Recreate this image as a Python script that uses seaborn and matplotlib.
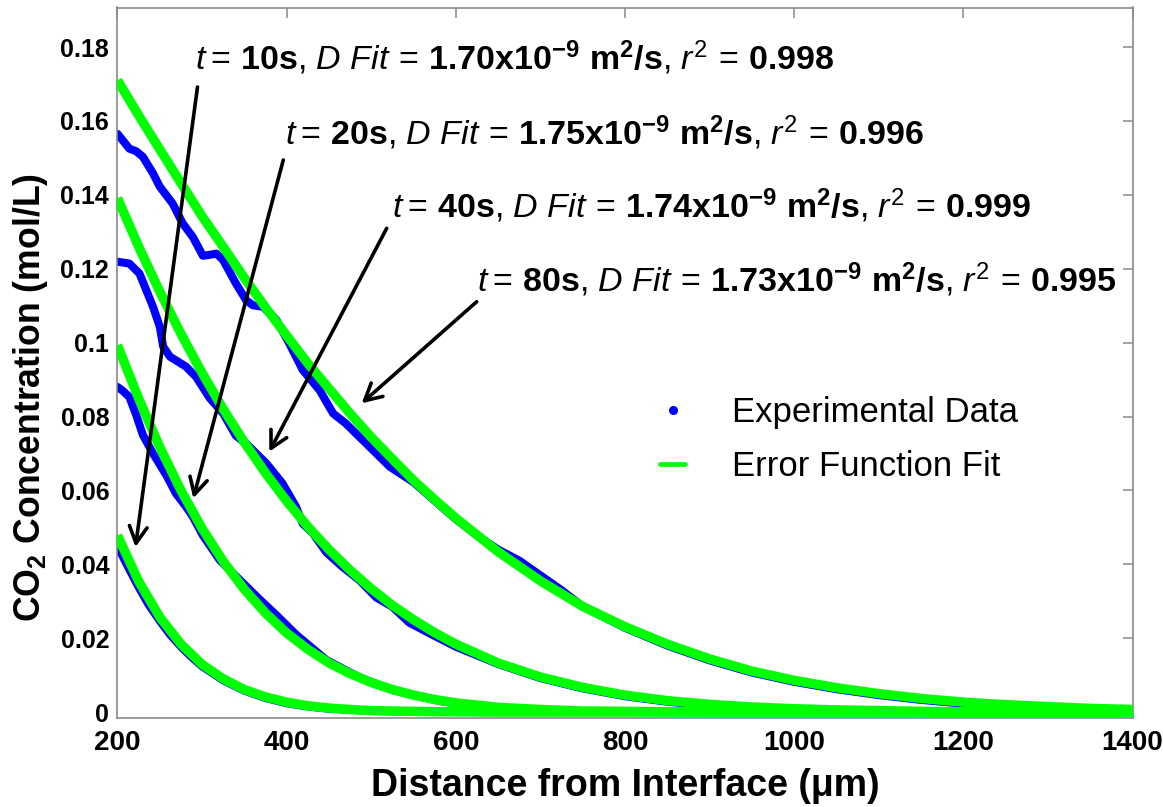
import matplotlib
matplotlib.use("Agg")
import matplotlib.pyplot as plt
import seaborn as sns
import pandas as pd
from matplotlib.lines import Line2D

# ---------------- data ----------------
x_fit = [200, 225, 250, 275, 300, 325, 350, 375, 400, 425, 450, 475, 500, 525, 550,
         575, 600, 650, 700, 750, 800, 850, 900, 950, 1000, 1050, 1100, 1150, 1200,
         1250, 1300, 1350, 1400]
fit_80s = [0.1710, 0.1615, 0.1523, 0.1432, 0.1342, 0.1259, 0.1175, 0.1095, 0.1019,
           0.0944, 0.0876, 0.0808, 0.0744, 0.0685, 0.0627, 0.0575, 0.0525, 0.0434,
           0.0355, 0.0286, 0.0231, 0.0184, 0.0144, 0.0111, 0.0086, 0.0066, 0.0050,
           0.0037, 0.0027, 0.0020, 0.0015, 0.0010, 0.0007]
fit_40s = [0.1391, 0.1260, 0.1138, 0.1024, 0.0918, 0.0820, 0.0730, 0.0647, 0.0571,
           0.0502, 0.0440, 0.0384, 0.0334, 0.0289, 0.0250, 0.0215, 0.0184, 0.0133,
           0.0095, 0.0067, 0.0046, 0.0031, 0.0021, 0.0014, 0.0009, 0.0006, 0.0004,
           0.0002, 0.0001, 0.0001, 0.0000, 0.0000, 0.0000]
fit_20s = [0.0993, 0.0849, 0.0717, 0.0600, 0.0497, 0.0408, 0.0332, 0.0268, 0.0214,
           0.0170, 0.0133, 0.0104, 0.0080, 0.0061, 0.0046, 0.0034, 0.0025, 0.0013,
           0.0007, 0.0003, 0.0002, 0.0001, 0.0000, 0.0000, 0.0000, 0.0000, 0.0000,
           0.0000, 0.0000, 0.0000, 0.0000, 0.0000, 0.0000]
fit_10s = [0.0478, 0.0354, 0.0257, 0.0184, 0.0129, 0.0090, 0.0061, 0.0041, 0.0027,
           0.0017, 0.0011, 0.0007, 0.0004, 0.0003, 0.0002, 0.0001, 0.0001, 0.0000,
           0.0000, 0.0000, 0.0000, 0.0000, 0.0000, 0.0000, 0.0000, 0.0000, 0.0000,
           0.0000, 0.0000, 0.0000, 0.0000, 0.0000, 0.0000]

x_exp_80s = [200, 207, 214, 222, 230, 242, 250, 265, 277, 289, 301, 310, 317, 325, 340,
             352, 360, 372, 388, 403, 419, 439, 455, 470, 490, 506, 522, 550, 575, 600,
             625, 650, 675, 700, 725, 750, 800, 850, 900, 950, 1000, 1050, 1100, 1150,
             1200, 1250, 1300, 1350, 1400]
exp_80s = [0.1565, 0.1545, 0.1525, 0.1518, 0.1503, 0.1458, 0.1422, 0.1377, 0.1323,
           0.1286, 0.1235, 0.1238, 0.1241, 0.1223, 0.1160, 0.1115, 0.1101, 0.1097,
           0.1061, 0.0998, 0.0926, 0.0871, 0.0808, 0.0781, 0.0736, 0.0700, 0.0664,
           0.0622, 0.0572, 0.0522, 0.0478, 0.0440, 0.0410, 0.0370, 0.0330, 0.0286,
           0.0228, 0.0180, 0.0140, 0.0107, 0.0082, 0.0062, 0.0046, 0.0033, 0.0023,
           0.0016, 0.0011, 0.0007, 0.0004]
x_exp_40s = [200, 214, 226, 234, 242, 250, 254, 262, 281, 293, 309, 325, 340, 352, 364,
             376, 395, 411, 419, 431, 447, 466, 486, 506, 525, 545, 569, 600, 650, 700,
             750, 800, 850, 900, 950, 1000, 1100, 1200, 1300, 1400]
exp_40s = [0.1219, 0.1214, 0.1187, 0.1142, 0.1097, 0.1043, 0.0989, 0.0962, 0.0935,
           0.0907, 0.0850, 0.0808, 0.0748, 0.0727, 0.0700, 0.0673, 0.0619, 0.0556,
           0.0510, 0.0484, 0.0432, 0.0393, 0.0357, 0.0310, 0.0285, 0.0242, 0.0213,
           0.0177, 0.0130, 0.0092, 0.0064, 0.0043, 0.0028, 0.0018, 0.0011, 0.0007,
           0.0003, 0.0001, 0.0000, 0.0000]
x_exp_20s = [200, 206, 214, 222, 230, 242, 258, 269, 281, 289, 301, 321, 340, 368, 388,
             411, 447, 486, 526, 585, 650, 700, 750, 850, 1000, 1200, 1400]
exp_20s = [0.0880, 0.0870, 0.0853, 0.0805, 0.0750, 0.0700, 0.0640, 0.0592, 0.0556,
           0.0529, 0.0478, 0.0411, 0.0368, 0.0305, 0.0262, 0.0210, 0.0141, 0.0094,
           0.0059, 0.0028, 0.0011, 0.0005, 0.0002, 0.0000, 0.0000, 0.0000, 0.0000]
x_exp_10s = [200, 212, 225, 237, 250, 262, 275, 287, 300, 325, 350, 375, 400, 425, 450,
             500, 550, 600, 700, 800, 1000, 1200, 1400]
exp_10s = [0.0449, 0.0395, 0.0338, 0.0290, 0.0247, 0.0210, 0.0177, 0.0150, 0.0124,
           0.0086, 0.0058, 0.0038, 0.0024, 0.0015, 0.0009, 0.0003, 0.0001, 0.0000,
           0.0000, 0.0000, 0.0000, 0.0000, 0.0000]

x_ticks = [200, 400, 600, 800, 1000, 1200, 1400]
x_tick_labels = ["200", "400", "600", "800", "1000", "1200", "1400"]
y_ticks = [0, 0.02, 0.04, 0.06, 0.08, 0.10, 0.12, 0.14, 0.16, 0.18]
y_tick_labels = ["0", "0.02", "0.04", "0.06", "0.08", "0.1", "0.12", "0.14", "0.16", "0.18"]

times = ["10s", "20s", "40s", "80s"]
d_fit = ["1.70", "1.75", "1.74", "1.73"]
r_sq = ["0.998", "0.996", "0.999", "0.995"]

# ---------------- style ----------------
sns.set_theme(style="white")
plt.rcParams['font.family'] = ['Liberation Sans', 'DejaVu Sans']
plt.rcParams['mathtext.fontset'] = 'custom'
plt.rcParams['mathtext.rm'] = 'Liberation Sans'
plt.rcParams['mathtext.it'] = 'Liberation Sans:italic'
plt.rcParams['mathtext.bf'] = 'Liberation Sans:bold'
for key in ['text.color', 'axes.labelcolor', 'xtick.labelcolor', 'ytick.labelcolor']:
    plt.rcParams[key] = 'black'

BLUE = "#0000ff"
GREEN = "#00ff00"
GRAY = "#8a8a8a"

fig = plt.figure(figsize=(11.63, 8.07), dpi=100)
W, H = 1163, 807
ax_l, ax_r, ax_t, ax_b = 117.5, 1132.5, 7.5, 718.0
ax = fig.add_axes([ax_l / W, 1 - ax_b / H, (ax_r - ax_l) / W, (ax_b - ax_t) / H])

exp_df = pd.concat([
    pd.DataFrame({"x": x_exp_10s, "c": exp_10s, "series": "10s"}),
    pd.DataFrame({"x": x_exp_20s, "c": exp_20s, "series": "20s"}),
    pd.DataFrame({"x": x_exp_40s, "c": exp_40s, "series": "40s"}),
    pd.DataFrame({"x": x_exp_80s, "c": exp_80s, "series": "80s"}),
], ignore_index=True)
fit_df = pd.concat([
    pd.DataFrame({"x": x_fit, "c": fit_10s, "series": "10s"}),
    pd.DataFrame({"x": x_fit, "c": fit_20s, "series": "20s"}),
    pd.DataFrame({"x": x_fit, "c": fit_40s, "series": "40s"}),
    pd.DataFrame({"x": x_fit, "c": fit_80s, "series": "80s"}),
], ignore_index=True)

sns.lineplot(data=exp_df, x="x", y="c", units="series", estimator=None, sort=False,
             color=BLUE, lw=5.8, solid_capstyle="round", solid_joinstyle="round",
             legend=False, ax=ax, zorder=2)
sns.lineplot(data=fit_df, x="x", y="c", units="series", estimator=None, sort=False,
             color=GREEN, lw=6.8, solid_capstyle="butt", solid_joinstyle="round",
             legend=False, ax=ax, zorder=3)

ax.set_xlim(200, 1400)
ax.set_ylim(-0.0016, 0.1907)
ax.set_xticks(x_ticks)
ax.set_xticklabels(x_tick_labels, fontweight="bold", fontsize=20)
ax.set_yticks(y_ticks)
ax.set_yticklabels(y_tick_labels, fontweight="bold", fontsize=18)
ax.tick_params(axis="both", direction="in", length=7, width=1.1, color=GRAY,
               top=True, right=True, labelcolor="black")
ax.tick_params(axis="x", pad=9)
ax.tick_params(axis="y", pad=6)
for sp in ax.spines.values():
    sp.set_color(GRAY)
    sp.set_linewidth(1.2)
    sp.set_visible(True)

ax.set_xlabel("Distance from Interface (\u03bcm)", fontweight="bold", fontsize=27, labelpad=8)
ax.set_ylabel(r"CO$_{\mathbf{2}}$ Concentration (mol/L)", fontweight="bold", fontsize=25.7)
ax.yaxis.set_label_coords((50 - ax_l) / (ax_r - ax_l), (ax_b - 398) / (ax_b - ax_t))


def px2data(px, py):
    xd = 200 + (px - ax_l) * 1200 / (ax_r - ax_l)
    yd = 0.1907 - (py - ax_t) * (0.1907 + 0.0016) / (ax_b - ax_t)
    return xd, yd


# annotation text (left edge px, baseline px), arrow tail and head (px)
text_pos = [(195, 70), (285, 145), (392, 218), (477, 292)]
arrow_tail = [(197.5, 87), (283.3, 160), (386.7, 228.3), (476.7, 301.7)]
arrow_head = [(135.5, 547), (193.3, 498.3), (269.3, 451.7), (361.7, 403.3)]

texts = []
for i in range(4):
    s = (r"$\mathit{t}=\,\mathbf{" + times[i] + r"}{,}\ \mathit{D\ Fit}\,=\,\mathbf{"
         + d_fit[i] + r"x10^{-9}\ m^{2}/s}{,}\ \mathit{r}^{2}\,=\,\mathbf{" + r_sq[i] + r"}$")
    tx, ty = px2data(*text_pos[i])
    t = ax.text(tx, ty, s, fontsize=24, ha="left", va="baseline", color="black", zorder=5)
    texts.append(t)
    ax.annotate("", xy=px2data(*arrow_head[i]), xytext=px2data(*arrow_tail[i]),
                arrowprops=dict(arrowstyle="->,head_length=0.6,head_width=0.32",
                                lw=2.6, color="black", mutation_scale=20,
                                shrinkA=0, shrinkB=0),
                zorder=6)

handles = [Line2D([], [], marker="o", color=BLUE, linestyle="none", markersize=5.5),
           Line2D([], [], color=GREEN, lw=3.4)]
leg = ax.legend(handles, ["Experimental Data", "Error Function Fit"], frameon=False,
                loc="center left",
                bbox_to_anchor=((660 - ax_l) / (ax_r - ax_l), (ax_b - 439.5) / (ax_b - ax_t)),
                fontsize=25, handlelength=0.72, handletextpad=1.35, labelspacing=0.62,
                borderpad=0, borderaxespad=0, labelcolor="black")

# fit the annotation widths to the reference (about 641 px)
fig.canvas.draw()
renderer = fig.canvas.get_renderer()
for t in texts:
    w = t.get_window_extent(renderer).width
    t.set_fontsize(t.get_fontsize() * 641.0 / w)

fig.savefig("out.png", dpi=100)
